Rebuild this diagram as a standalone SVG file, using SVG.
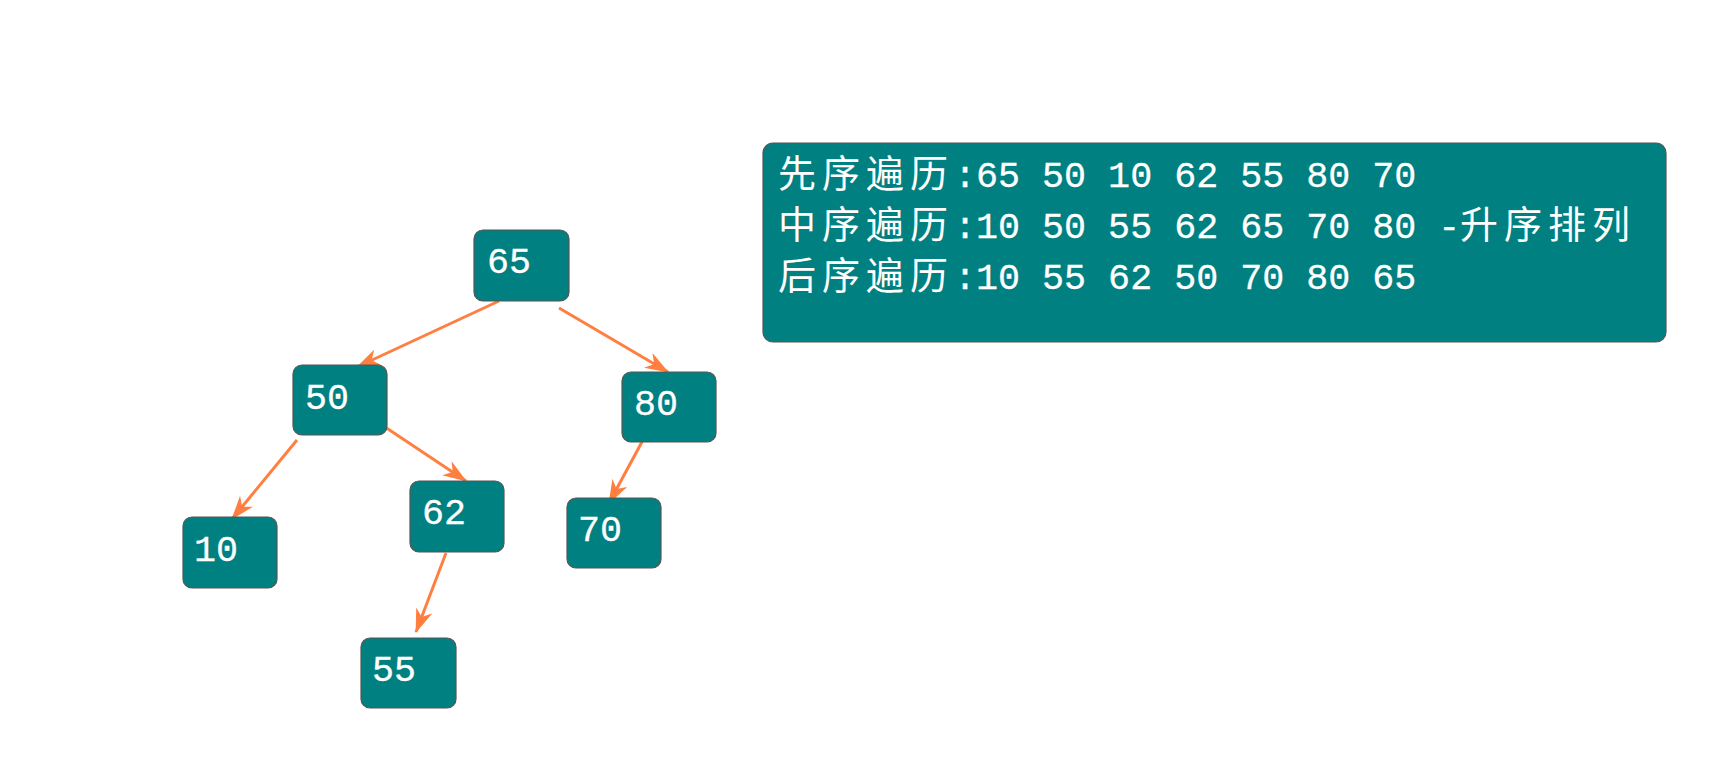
<svg xmlns="http://www.w3.org/2000/svg" width="1727" height="767" viewBox="0 0 1727 767">
<defs>
<marker id="arr" markerUnits="userSpaceOnUse" markerWidth="24" markerHeight="17" refX="23" refY="8.5" orient="auto" viewBox="0 0 24 17">
<path d="M0,0 L24,8.5 L0,17 L7,8.5 Z" fill="#FF7F41"/>
</marker>
<style>
.node{fill:#008080;stroke:#555555;stroke-width:1.2}
.lbl{font-family:"Liberation Mono","DejaVu Sans Mono",monospace;font-size:36.7px;fill:#ffffff;stroke:#ffffff;stroke-width:0.3}
.edge{stroke:#FF7F41;stroke-width:3;fill:none;marker-end:url(#arr)}
.cjk{font-family:"Noto Sans CJK SC","Noto Sans CJK JP",sans-serif;font-size:38px;letter-spacing:6px;stroke-width:0}
</style>
</defs>
<rect width="1727" height="767" fill="#ffffff"/>
<g id="connectors">
<line class="edge" x1="499" y1="301" x2="357" y2="367"/>
<line class="edge" x1="559" y1="308" x2="668" y2="372"/>
<line class="edge" x1="297" y1="440" x2="232" y2="519"/>
<line class="edge" x1="382" y1="425" x2="466" y2="481"/>
<line class="edge" x1="446" y1="553" x2="416" y2="632"/>
<line class="edge" x1="643" y1="440" x2="609" y2="503"/>
</g>
<g id="n65"><rect class="node" x="474" y="230" width="95" height="71" rx="9"/><text class="lbl" x="487" y="273">65</text></g>
<g id="n50"><rect class="node" x="293" y="365" width="94" height="70" rx="9"/><text class="lbl" x="305" y="409">50</text></g>
<g id="n80"><rect class="node" x="622" y="372" width="94" height="70" rx="9"/><text class="lbl" x="634" y="415">80</text></g>
<g id="n10"><rect class="node" x="183" y="517" width="94" height="71" rx="9"/><text class="lbl" x="194" y="561">10</text></g>
<g id="n62"><rect class="node" x="410" y="481" width="94" height="71" rx="9"/><text class="lbl" x="422" y="524">62</text></g>
<g id="n70"><rect class="node" x="567" y="498" width="94" height="70" rx="9"/><text class="lbl" x="578" y="541">70</text></g>
<g id="n55"><rect class="node" x="361" y="638" width="95" height="70" rx="9"/><text class="lbl" x="372" y="681">55</text></g>
<g id="traversal">
<rect class="node" x="763" y="143" width="903" height="199" rx="10"/>
<text class="lbl" y="187"><tspan class="cjk" x="778">先序遍历</tspan><tspan x="954">:65 50 10 62 55 80 70</tspan></text>
<text class="lbl" y="238"><tspan class="cjk" x="778">中序遍历</tspan><tspan x="954">:10 50 55 62 65 70 80 -</tspan><tspan class="cjk" x="1460">升序排列</tspan></text>
<text class="lbl" y="289"><tspan class="cjk" x="778">后序遍历</tspan><tspan x="954">:10 55 62 50 70 80 65</tspan></text>
</g>
</svg>
